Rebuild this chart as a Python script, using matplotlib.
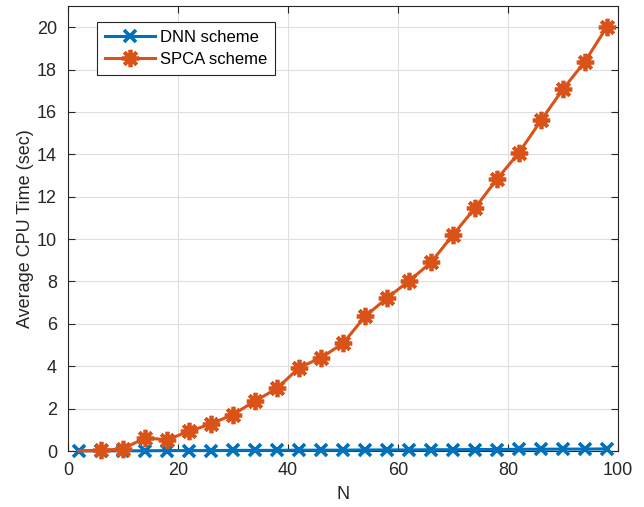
import matplotlib
matplotlib.use('Agg')
import matplotlib.pyplot as plt

# data
n_values = [2, 6, 10, 14, 18, 22, 26, 30, 34, 38, 42, 46, 50,
            54, 58, 62, 66, 70, 74, 78, 82, 86, 90, 94, 98]
dnn_time = [0.01, 0.01, 0.01, 0.01, 0.02, 0.02, 0.02, 0.03, 0.03, 0.03,
            0.04, 0.04, 0.04, 0.05, 0.05, 0.05, 0.06, 0.06, 0.07, 0.07,
            0.08, 0.08, 0.09, 0.09, 0.10]
spca_time = [0.0, 0.03, 0.1, 0.62, 0.53, 0.93, 1.28, 1.72, 2.36, 2.95,
             3.93, 4.4, 5.08, 6.35, 7.22, 8.02, 8.9, 10.2, 11.47, 12.83,
             14.08, 15.6, 17.08, 18.38, 20.03]
series_names = ['DNN scheme', 'SPCA scheme']

plt.rcParams['font.family'] = ['Liberation Sans', 'DejaVu Sans']
plt.rcParams['font.size'] = 12

fig = plt.figure(figsize=(6.44, 5.07), dpi=100)
ax = fig.add_axes([68 / 644, 56 / 507, 550 / 644, 445 / 507])

dark = '#262626'
ax.plot(n_values, dnn_time, color='#0072BD', lw=2.2, marker='x',
        ms=9, mew=2.6, label=series_names[0], zorder=3, clip_on=False)
ax.plot(n_values, spca_time, color='#D95319', lw=2.2, marker=(8, 2, 0),
        ms=12.5, mew=2.7, markevery=slice(1, None), label=series_names[1],
        zorder=4, clip_on=False)

ax.set_xlim(0, 100)
ax.set_ylim(0, 21)
ax.set_xticks(range(0, 101, 20))
ax.set_yticks(range(0, 21, 2))
ax.grid(True, color='#dedede', lw=0.8)
ax.set_axisbelow(True)
ax.tick_params(direction='in', top=True, right=True, length=5,
               colors=dark, labelsize=13, width=0.8)
ax.tick_params(axis='y', pad=8)
ax.tick_params(axis='x', pad=8)
for s in ax.spines.values():
    s.set_color(dark)
    s.set_linewidth(0.8)

ax.set_xlabel('N', color=dark, fontsize=13, labelpad=5)
ax.set_ylabel('Average CPU Time (sec)', color=dark, fontsize=13, labelpad=2)

leg = ax.legend(loc='upper left', bbox_to_anchor=(0.053, 0.964),
                handlelength=3.0, fontsize=12, fancybox=False,
                edgecolor=dark, framealpha=1, borderpad=0.45,
                labelspacing=0.45, handletextpad=0.35, borderaxespad=0)
leg.get_frame().set_linewidth(0.8)

fig.savefig('out.png', dpi=100)
